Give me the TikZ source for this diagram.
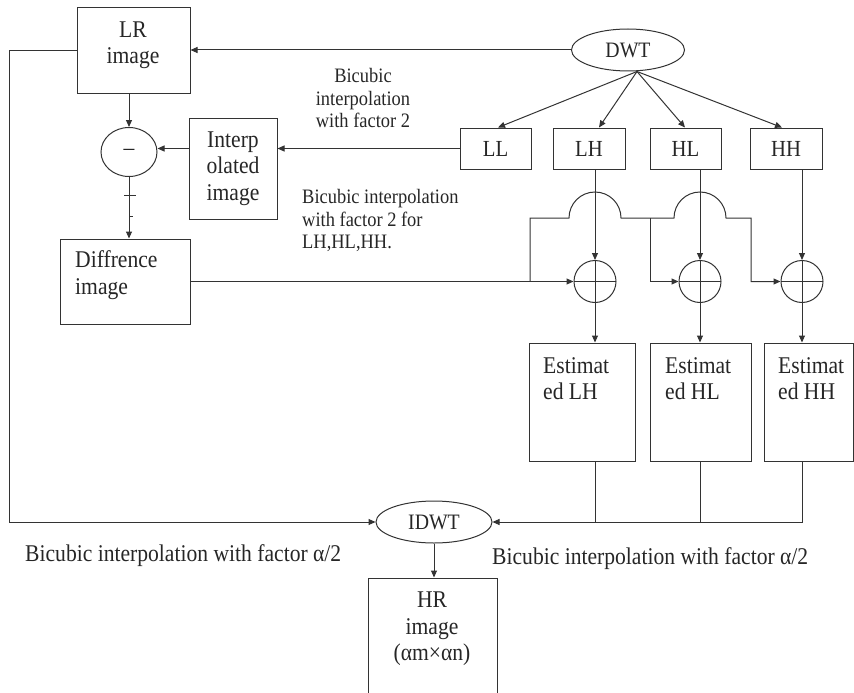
\documentclass[tikz,border=0pt]{standalone}
\usepackage{fontspec}
\setmainfont{Liberation Serif}[FakeStretch=0.9]
\usetikzlibrary{arrows.meta,shapes.geometric}
\begin{document}
\begin{tikzpicture}[x=1pt,y=-1pt,
  ln/.style={draw=black!80, line width=1pt},
  arr/.style={ln, -{Triangle[length=7pt,width=6pt]}},
  box/.style={ln, rectangle, inner sep=0pt},
  txt/.style={text=black!85, inner sep=0pt, font=\fontsize{24}{26.5}\selectfont},
  small/.style={text=black!85, inner sep=0pt, font=\fontsize{20.5}{22.5}\selectfont},
  oval/.style={ln, ellipse, inner sep=0pt, text=black!85, font=\fontsize{22}{24}\selectfont},
  band/.style={ln, rectangle, inner sep=0pt, minimum height=41pt, text=black!85, font=\fontsize{23}{25}\selectfont},
  adder/.style={ln, circle, minimum size=42pt, inner sep=0pt,
     path picture={\draw[black!80, line width=1pt] (path picture bounding box.north) -- (path picture bounding box.south) (path picture bounding box.west) -- (path picture bounding box.east);}}
]
\useasboundingbox (0,0) rectangle (854,693);
\clip (0,0) rectangle (854,693);

% boxes
\node[box, minimum width=113pt, minimum height=85pt] (lr) at (133.5,50.5) {};
\node[txt, align=center] (lrt) at (133,45) {LR\\image};
\node[box, minimum width=88pt, minimum height=101pt] (interp) at (233,168.5) {};
\node[txt, align=center] (interpt) at (233,168.5) {Interp\\olated\\image};
\node[box, minimum width=130pt, minimum height=85pt] (diff) at (125,281.5) {};
\node[txt, align=left, anchor=west] (difft) at (75,275) {Diffrence\\image};
\node[ln, ellipse, minimum width=56pt, minimum height=49pt, inner sep=0pt, text=black!85, font=\fontsize{24}{26}\selectfont] (minus) at (129,152) {–};

\node[oval, minimum width=113pt, minimum height=42pt] (dwt) at (628,50) {DWT};
\node[oval, minimum width=116pt, minimum height=42pt] (idwt) at (434,522) {IDWT};

\node[band, minimum width=71pt] (ll) at (495.5,148.5) {LL};
\node[band, minimum width=72pt] (lh) at (589,148.5) {LH};
\node[band, minimum width=71pt] (hl) at (685.5,148.5) {HL};
\node[band, minimum width=72pt] (hh) at (786,148.5) {HH};

\node[adder] (alh) at (595,281.5) {};
\node[adder] (ahl) at (700,281.5) {};
\node[adder] (ahh) at (802,281.5) {};

\node[box, minimum width=106pt, minimum height=118pt] (elh) at (582,402) {};
\node[box, minimum width=101pt, minimum height=118pt] (ehl) at (700.5,402) {};
\node[box, minimum width=89pt, minimum height=118pt] (ehh) at (808.5,402) {};
\node[txt, align=left, anchor=west] (elht) at (543,378.5) {Estimat\\ed LH};
\node[txt, align=left, anchor=west] (ehlt) at (665,378.5) {Estimat\\ed HL};
\node[txt, align=left, anchor=west] (ehht) at (778,378.5) {Estimat\\ed HH};

\node[box, minimum width=129pt, minimum height=130pt] (hr) at (432.5,643) {};
\node[txt, align=center] (hrt) at (432,629) {HR\\image\\(αm×αn)};

% free text
\node[small, align=center] (t1) at (363,98) {Bicubic\\interpolation\\with factor 2};
\node[small, align=left, anchor=west] (t2) at (302,220.5) {Bicubic interpolation\\with factor 2 for\\LH,HL,HH.};
\node[txt, anchor=west] (t3) at (25,556) {Bicubic interpolation with factor α/2};
\node[txt, anchor=west] (t4) at (492,559) {Bicubic interpolation with factor α/2};

% connectors
\draw[arr] (dwt.west) -- (dwt.west -| lr.east);
\draw[arr] (lr.west) -- (9,50.5) |- (idwt.west);
\draw[arr] (lr.south -| minus.north) -- (minus.north);
\draw[arr] (ll.west) -- (ll.west -| interp.east);
\draw[arr] (interp.west |- ll.west) -- (minus.east |- ll.west);
\draw[arr] (minus.south) -- (minus.south |- diff.north);
\draw[ln] (124,195) -- (136,195);
\draw[ln] (130,216) -- (133,216);

\draw[arr] ([xshift=9pt]dwt.south) -- ([xshift=2.5pt]ll.north);
\draw[arr] ([xshift=9pt]dwt.south) -- ([xshift=10pt]lh.north);
\draw[arr] ([xshift=9pt]dwt.south) -- ([xshift=-0.5pt]hl.north);
\draw[arr] ([xshift=9pt]dwt.south) -- ([xshift=-4pt]hh.north);

\draw[arr] (lh.south -| alh.north) -- (alh.north);
\draw[arr] (hl.south -| ahl.north) -- (ahl.north);
\draw[arr] (hh.south -| ahh.north) -- (ahh.north);
\draw[arr] (alh.south) -- (alh.south |- elh.north);
\draw[arr] (ahl.south) -- (ahl.south |- ehl.north);
\draw[arr] (ahh.south) -- (ahh.south |- ehh.north);

\draw[arr] (diff.east) -- (alh.west);
\coordinate (j0) at (530,281.5);
\coordinate (j1) at (650,218);
\coordinate (j2) at (751,218);
\draw[arr] (j0) -- (530,218) -- (569,218) arc[start angle=180,end angle=0,radius=26pt]
   -- (674,218) arc[start angle=180,end angle=0,radius=26pt] -- (j2) |- (ahh.west);
\draw[arr] (j1) |- (ahl.west);

\draw[arr] (ahh |- ehh.south) |- (idwt.east);
\draw[ln] (alh |- elh.south) -- (alh |- idwt.east);
\draw[ln] (ahl |- ehl.south) -- (ahl |- idwt.east);
\draw[arr] (idwt.south) -- (idwt.south |- hr.north);
\end{tikzpicture}
\end{document}
